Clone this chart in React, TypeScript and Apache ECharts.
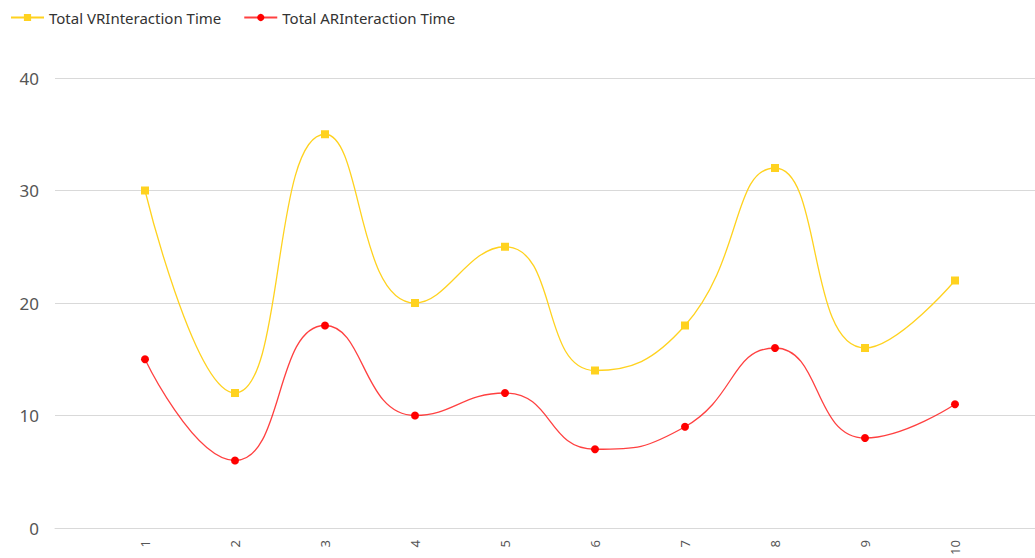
import React, { useEffect, useRef } from "react";
import * as echarts from "echarts";

const categories = ["", "1", "2", "3", "4", "5", "6", "7", "8", "9", "10", ""];
const vrValues = [null, 30, 12, 35, 20, 25, 14, 18, 32, 16, 22, null];
const arValues = [null, 15, 6, 18, 10, 12, 7, 9, 16, 8, 11, null];
const yTicks = { min: 0, max: 40, interval: 10 };

export default function App() {
  const ref = useRef<HTMLDivElement>(null);
  useEffect(() => {
    if (!ref.current) return;
    const chart = echarts.init(ref.current, undefined, { renderer: "svg" });
    const font = "'Noto Sans', sans-serif";
    chart.setOption({
      animation: false,
      textStyle: { fontFamily: font },
      legend: {
        left: 5,
        top: 5,
        itemWidth: 33,
        itemHeight: 9,
        itemGap: 22,
        textStyle: { fontSize: 15, color: "#333", fontFamily: font },
        data: ["Total VRInteraction Time", "Total ARInteraction Time"],
      },
      grid: { left: 55, right: 0, top: 78, bottom: 30, containLabel: false },
      xAxis: {
        type: "category",
        data: categories,
        boundaryGap: false,
        axisLine: { show: true, lineStyle: { color: "#d9d9d9" } },
        axisTick: { show: false },
        splitLine: { show: false },
        axisLabel: { rotate: 90, fontSize: 13, color: "#555", margin: 12, fontFamily: font },
      },
      yAxis: {
        type: "value",
        min: yTicks.min,
        max: yTicks.max,
        interval: yTicks.interval,
        axisLine: { show: false },
        axisTick: { show: false },
        axisLabel: { fontSize: 17, color: "#555", margin: 16, fontFamily: font },
        splitLine: { lineStyle: { color: "#d9d9d9" } },
      },
      series: [
        {
          name: "Total VRInteraction Time",
          type: "line",
          data: vrValues,
          smooth: true,
          symbol: "rect",
          symbolSize: 8,
          itemStyle: { color: "#FFD21F" },
          lineStyle: { color: "#FFD21F", width: 1.3 },
        },
        {
          name: "Total ARInteraction Time",
          type: "line",
          data: arValues,
          smooth: true,
          symbol: "circle",
          symbolSize: 8,
          itemStyle: { color: "#FF0000" },
          lineStyle: { color: "#FF0000", width: 1.3, opacity: 0.75 },
        },
      ],
    });
    return () => chart.dispose();
  }, []);
  return (
    <div style={{ position: "absolute", left: 0, top: 0, width: 1035, height: 558, overflow: "hidden", background: "#fff" }}>
      <div ref={ref} style={{ width: 1045, height: 558 }} />
    </div>
  );
}
